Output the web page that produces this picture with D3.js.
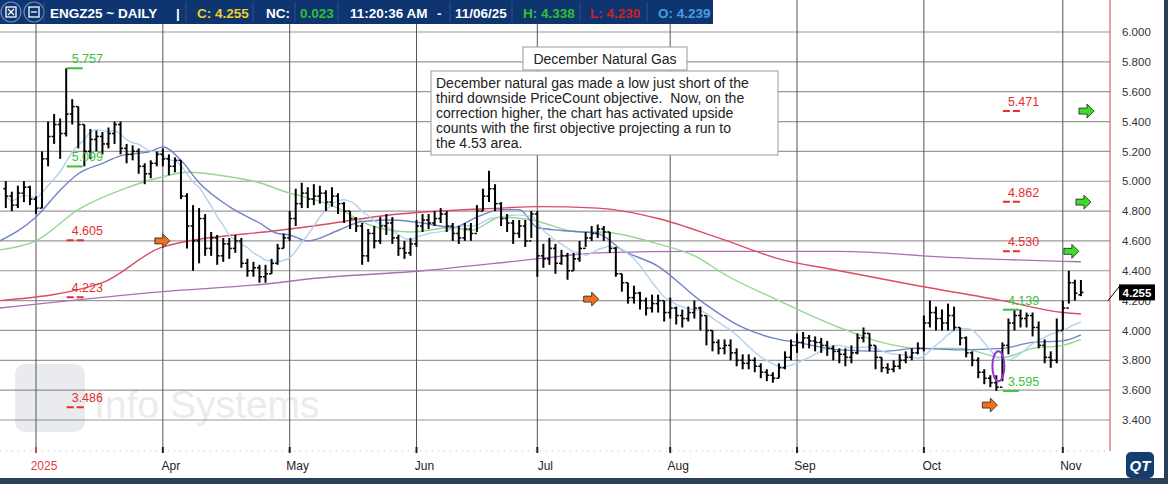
<!DOCTYPE html>
<html>
<head>
<meta charset="utf-8">
<script src="https://cdn.jsdelivr.net/npm/d3@7"></script>
<style>
  body { margin: 0; background: #fff; }
  svg { display: block; font-family: "Liberation Sans", Arial, sans-serif; }
</style>
</head>
<body>
<svg id="chart" width="1168" height="484"></svg>
<script>
// daily bars, index 0 = Feb 24
const closes = [4.90,4.84,4.92,4.96,4.88,4.82,5.15,5.30,5.38,5.32,5.45,5.50,5.38,5.20,5.28,5.30,5.25,5.32,5.38,5.22,
5.18,5.20,5.10,5.05,5.12,5.18,5.15,5.10,5.14,4.90,4.70,4.60,4.75,4.55,4.62,4.50,4.58,4.55,4.60,4.45,
4.40,4.42,4.36,4.38,4.45,4.55,4.62,4.75,4.85,4.92,4.88,4.90,4.92,4.86,4.90,4.85,4.80,4.75,4.70,4.50,
4.65,4.60,4.70,4.72,4.62,4.55,4.52,4.58,4.70,4.74,4.72,4.75,4.78,4.70,4.65,4.62,4.68,4.65,4.80,4.90,
4.95,4.85,4.75,4.72,4.65,4.70,4.60,4.78,4.50,4.48,4.55,4.45,4.50,4.40,4.48,4.55,4.62,4.65,4.68,4.66,
4.55,4.38,4.32,4.22,4.25,4.20,4.15,4.18,4.20,4.12,4.15,4.10,4.08,4.12,4.15,4.10,4.00,3.92,3.88,3.90,
3.85,3.80,3.78,3.80,3.76,3.72,3.70,3.68,3.75,3.82,3.90,3.92,3.95,3.93,3.92,3.90,3.88,3.86,3.84,3.82,
3.85,3.95,3.98,3.90,3.82,3.75,3.74,3.76,3.80,3.82,3.85,3.88,4.05,4.12,4.08,4.05,4.10,4.02,3.95,3.85,
3.80,3.72,3.68,3.65,3.62,3.90,4.05,4.10,4.08,4.10,4.02,3.90,3.82,3.80,4.00,4.15,4.32,4.25,4.255];
const highs = [5.00,4.93,4.97,5.00,4.97,4.90,5.20,5.40,5.45,5.42,5.757,5.55,5.50,5.38,5.35,5.34,5.33,5.36,5.40,5.40,
5.25,5.24,5.22,5.12,5.14,5.20,5.22,5.18,5.16,5.14,4.92,4.84,4.82,4.78,4.66,4.64,4.62,4.62,4.64,4.62,
4.48,4.46,4.44,4.44,4.48,4.58,4.65,4.80,4.95,4.99,4.96,4.98,4.97,4.94,4.96,4.92,4.86,4.80,4.76,4.72,
4.68,4.70,4.76,4.78,4.76,4.64,4.60,4.62,4.74,4.78,4.78,4.80,4.82,4.80,4.72,4.70,4.72,4.72,4.84,4.95,
5.07,4.98,4.86,4.78,4.74,4.74,4.74,4.80,4.80,4.58,4.62,4.58,4.54,4.52,4.52,4.60,4.66,4.70,4.71,4.70,
4.66,4.56,4.38,4.32,4.30,4.26,4.22,4.24,4.24,4.20,4.22,4.16,4.14,4.16,4.20,4.16,4.10,4.00,3.94,3.94,
3.94,3.88,3.84,3.84,3.82,3.78,3.74,3.72,3.78,3.86,3.94,3.98,3.99,3.97,3.96,3.95,3.93,3.90,3.88,3.88,
3.90,3.98,4.02,3.98,3.90,3.82,3.78,3.80,3.84,3.86,3.88,3.92,4.10,4.20,4.16,4.14,4.18,4.16,4.02,3.96,
3.86,3.82,3.74,3.70,3.70,3.92,4.08,4.14,4.14,4.12,4.12,4.06,3.94,3.86,4.08,4.20,4.40,4.34,4.338];
const lows = [4.82,4.80,4.82,4.86,4.84,4.78,4.82,5.10,5.25,5.15,5.30,5.38,5.22,5.10,5.15,5.20,5.18,5.22,5.25,5.18,
5.12,5.14,5.05,4.98,5.02,5.10,5.10,5.04,5.06,4.88,4.55,4.40,4.45,4.50,4.50,4.44,4.46,4.48,4.52,4.42,
4.36,4.36,4.32,4.32,4.38,4.44,4.55,4.60,4.70,4.82,4.82,4.84,4.85,4.80,4.83,4.78,4.72,4.68,4.66,4.44,
4.46,4.55,4.58,4.64,4.58,4.50,4.48,4.50,4.56,4.66,4.68,4.70,4.72,4.66,4.60,4.58,4.60,4.60,4.66,4.80,
4.86,4.80,4.70,4.66,4.58,4.62,4.56,4.62,4.36,4.42,4.44,4.38,4.44,4.34,4.40,4.46,4.56,4.60,4.62,4.60,
4.52,4.36,4.26,4.18,4.18,4.14,4.10,4.12,4.12,4.06,4.08,4.04,4.02,4.06,4.08,4.00,3.90,3.86,3.84,3.84,
3.80,3.76,3.74,3.74,3.72,3.68,3.66,3.65,3.68,3.74,3.80,3.85,3.88,3.88,3.86,3.85,3.83,3.80,3.78,3.76,
3.78,3.84,3.92,3.86,3.74,3.72,3.71,3.72,3.74,3.78,3.80,3.84,3.86,4.02,4.00,4.00,4.00,4.00,3.90,3.82,
3.76,3.68,3.64,3.62,3.595,3.66,3.84,4.00,4.02,4.02,3.96,3.88,3.78,3.75,3.78,4.00,4.18,4.20,4.23];
const firstOpen = 4.95, lastOpen = 4.239;

// moving averages: [bar index, value]
const maBlue = [[-1,4.6],[5,4.76],[9,4.94],[12,5.05],[16,5.12],[19,5.17],[24,5.2],[26,5.23],[29,5.14],[32,4.99],[37,4.83],[42,4.72],[45,4.65],[47,4.64],[50,4.6],[55,4.67],[59,4.73],[64,4.74],[69,4.72],[74,4.69],[78,4.76],[82,4.81],[85,4.81],[88,4.69],[92,4.67],[98,4.65],[102,4.54],[108,4.43],[115,4.2],[122,4.02],[128,3.94],[131,3.92],[138,3.87],[145,3.86],[151,3.88],[158,3.87],[165,3.88],[170,3.92],[175,3.93],[178,3.97]];
const maGreen = [[-1,4.54],[5,4.6],[12,4.81],[19,4.94],[26,5.03],[30,5.06],[37,5.03],[42,4.99],[47,4.92],[49,4.9],[55,4.82],[60,4.71],[67,4.66],[74,4.69],[77,4.67],[82,4.76],[87,4.74],[95,4.66],[98,4.66],[108,4.58],[115,4.48],[118,4.4],[128,4.2],[138,4.02],[145,3.92],[151,3.88],[158,3.88],[165,3.82],[170,3.88],[175,3.9],[178,3.94]];
const maRed = [[-1,4.2],[16,4.32],[26,4.56],[45,4.67],[49,4.69],[65,4.78],[82,4.82],[88,4.83],[98,4.82],[108,4.75],[118,4.62],[128,4.48],[138,4.4],[151,4.3],[165,4.2],[175,4.12],[178,4.11]];
const maPurple = [[-1,4.15],[26,4.26],[45,4.32],[49,4.34],[69,4.4],[88,4.48],[98,4.52],[115,4.53],[138,4.53],[156,4.49],[178,4.46]];
const lightPeriod = 9;

const monthTicks = [5, 26, 47, 68, 88, 110, 131, 152, 175];
const monthLabels = ["2025", "Apr", "May", "Jun", "Jul", "Aug", "Sep", "Oct", "Nov"];
const yTicks = [3.4, 3.6, 3.8, 4.0, 4.2, 4.4, 4.6, 4.8, 5.0, 5.2, 5.4, 5.6, 5.8, 6.0];

// PriceCount objectives: [value, bar index, colour]
const objectives = [[5.757, 10, "#3cc13c"], [5.099, 10, "#3cc13c"], [4.605, 10, "#e03030"], [4.223, 10, "#e03030"], [3.486, 10, "#e03030"],
  [5.471, 165, "#e03030"], [4.862, 165, "#e03030"], [4.530, 165, "#e03030"], [4.139, 165, "#3cc13c"], [3.595, 165, "#3cc13c"]];
const orangeArrows = [[26, 4.6], [97, 4.21], [163, 3.5]];
const greenArrows = [[179, 5.47], [178.5, 4.86], [176.5, 4.53]];

const W = 1168, H = 484;
const svg = d3.select("#chart");
const x = d3.scaleLinear().domain([0, 170]).range([5.8, 5.8 + 6.04 * 170]);
const y = d3.scaleLinear().domain([3.4, 6.0]).range([420, 32]);
const plotR = 1110, gridBottom = 451;

// grid
svg.append("g").selectAll("line").data(yTicks).join("line")
  .attr("x1", 0).attr("x2", plotR).attr("y1", d => y(d)).attr("y2", d => y(d))
  .attr("stroke", "#9a9a9a").attr("stroke-width", 1.2);
svg.append("g").selectAll("line").data(monthTicks).join("line")
  .attr("x1", d => x(d)).attr("x2", d => x(d)).attr("y1", 0).attr("y2", gridBottom)
  .attr("stroke", "#555").attr("stroke-width", 1);
svg.append("line").attr("x1", plotR).attr("x2", plotR).attr("y1", 0).attr("y2", gridBottom)
  .attr("stroke", "#e04040").attr("stroke-width", 1);
svg.append("line").attr("x1", 0).attr("x2", plotR).attr("y1", gridBottom).attr("y2", gridBottom)
  .attr("stroke", "#bbb").attr("stroke-dasharray", "1,5");
svg.append("g").selectAll("line").data(monthTicks).join("line")
  .attr("x1", d => x(d)).attr("x2", d => x(d)).attr("y1", gridBottom - 4).attr("y2", gridBottom + 2)
  .attr("stroke", (d, i) => i === 0 ? "#e04040" : "#222").attr("stroke-width", 2);

// watermark
const wm = svg.append("g").attr("opacity", 0.13);
wm.append("rect").attr("x", 15).attr("y", 364).attr("width", 70).attr("height", 68).attr("rx", 10).attr("fill", "#5a6f8a");
wm.append("text").attr("x", 94).attr("y", 418).attr("font-size", 39).attr("fill", "#5a6f8a").text("Info Systems");

// y axis
const yAxis = d3.axisRight(y).tickValues(yTicks).tickFormat(d3.format(".3f")).tickSize(0).tickPadding(12);
svg.append("g").attr("transform", `translate(${plotR},0)`).call(yAxis)
  .call(g => g.select(".domain").remove())
  .call(g => g.selectAll("text").attr("font-size", 11.5).attr("fill", "#333").attr("font-family", "Liberation Sans, Arial"));

// x axis labels
svg.append("g").selectAll("text").data(monthTicks).join("text")
  .attr("x", d => x(d) + 8).attr("y", 470).attr("text-anchor", "middle").attr("font-size", 12)
  .attr("fill", (d, i) => i === 0 ? "#e04040" : "#222").text((d, i) => monthLabels[i]);

// moving averages
const line = d3.line().x(d => x(d[0])).y(d => y(d[1])).curve(d3.curveMonotoneX);
const lightMA = closes.map((c, i) => {
  const w = closes.slice(Math.max(0, i - lightPeriod + 1), i + 1);
  return [i, d3.mean(w)];
});
[[maPurple, "#a970b5"], [maRed, "#dd4a63"], [maGreen, "#92d892"], [maBlue, "#7282c8"], [lightMA, "#b3d2ec"]]
  .forEach(([data, col]) => {
    svg.append("path").datum(data).attr("d", line).attr("fill", "none")
      .attr("stroke", col).attr("stroke-width", 1.4);
  });

// OHLC bars
const bars = svg.append("g").attr("stroke", "#000").attr("stroke-width", 2);
closes.forEach((c, i) => {
  const o = i === 0 ? firstOpen : (i === closes.length - 1 ? lastOpen : closes[i - 1]);
  const cx = x(i);
  bars.append("line").attr("x1", cx).attr("x2", cx).attr("y1", y(highs[i])).attr("y2", y(lows[i]));
  bars.append("line").attr("x1", cx - 2.5).attr("x2", cx).attr("y1", y(o)).attr("y2", y(o)).attr("stroke-width", 1.5);
  bars.append("line").attr("x1", cx).attr("x2", cx + 2.5).attr("y1", y(c)).attr("y2", y(c)).attr("stroke-width", 1.5);
});

// objectives
objectives.forEach(([v, i, col]) => {
  const gx = x(i) + 0.5;
  if (col === "#e03030") {
    svg.append("line").attr("x1", gx).attr("x2", gx + 19).attr("y1", y(v)).attr("y2", y(v))
      .attr("stroke", col).attr("stroke-width", 2).attr("stroke-dasharray", "7,3");
  } else {
    svg.append("line").attr("x1", gx).attr("x2", gx + 16).attr("y1", y(v)).attr("y2", y(v))
      .attr("stroke", col).attr("stroke-width", 2);
  }
  svg.append("text").attr("x", gx + 5).attr("y", y(v) - 5).attr("font-size", 12.5)
    .attr("fill", col).text(d3.format(".3f")(v));
});

// arrows
const arrowPath = "M0,-3 L8,-3 L8,-7 L15,0 L8,7 L8,3 L0,3 Z";
orangeArrows.forEach(([i, v]) => svg.append("path").attr("d", arrowPath)
  .attr("transform", `translate(${x(i) - 8},${y(v)})`).attr("fill", "#f07020").attr("stroke", "#222").attr("stroke-width", 0.8));
greenArrows.forEach(([i, v]) => svg.append("path").attr("d", arrowPath)
  .attr("transform", `translate(${x(i) - 8},${y(v)})`).attr("fill", "#3ddc2a").attr("stroke", "#222").attr("stroke-width", 0.8));

// purple ellipse around reversal
svg.append("ellipse").attr("cx", x(165) - 4).attr("cy", y(3.76)).attr("rx", 6).attr("ry", 15)
  .attr("fill", "none").attr("stroke", "#9b30d0").attr("stroke-width", 2);

// last price tag
svg.append("line").attr("x1", 1108).attr("x2", 1120).attr("y1", y(4.2)).attr("y2", y(4.30)).attr("stroke", "#000");
svg.append("rect").attr("x", 1119).attr("y", y(4.255) - 8).attr("width", 36).attr("height", 16).attr("fill", "#000");
svg.append("text").attr("x", 1137).attr("y", y(4.255) + 4.5).attr("text-anchor", "middle")
  .attr("font-size", 11.5).attr("font-weight", "bold").attr("fill", "#fff").text("4.255");

// comment boxes
svg.append("rect").attr("x", 523).attr("y", 47).attr("width", 164).attr("height", 23)
  .attr("fill", "#fff").attr("stroke", "#999");
svg.append("text").attr("x", 605).attr("y", 64).attr("text-anchor", "middle").attr("font-size", 14).attr("fill", "#222")
  .text("December Natural Gas");
svg.append("rect").attr("x", 431).attr("y", 71).attr("width", 347).attr("height", 84)
  .attr("fill", "#fff").attr("stroke", "#999");
const note = ["December natural gas made a low just short of the",
  "third downside PriceCount objective.  Now, on the",
  "correction higher, the chart has activated upside",
  "counts with the first objective projecting a run to",
  "the 4.53 area."];
svg.append("text").attr("font-size", 14).attr("fill", "#222").selectAll("tspan").data(note).join("tspan")
  .attr("x", 436).attr("y", (d, i) => 88 + i * 15).style("white-space", "pre").text(d => d);

// header bar
const hdr = svg.append("g");
hdr.append("rect").attr("x", 0).attr("y", 0).attr("width", 713).attr("height", 24).attr("fill", "#0e3570");
[11, 34].forEach((cx, k) => {
  hdr.append("circle").attr("cx", cx).attr("cy", 12).attr("r", 10).attr("fill", "#0e3570").attr("stroke", "#6f8fc0").attr("stroke-width", 1.2);
  hdr.append("rect").attr("x", cx - 5).attr("y", 7).attr("width", 10).attr("height", 10).attr("fill", "none").attr("stroke", "#fff").attr("stroke-width", 1.3);
  if (k === 0) hdr.append("path").attr("d", `M${cx - 3},9 L${cx + 3},15 M${cx + 3},9 L${cx - 3},15`).attr("stroke", "#fff").attr("stroke-width", 1.3);
  else hdr.append("path").attr("d", `M${cx - 3},12 L${cx + 3},12`).attr("stroke", "#fff").attr("stroke-width", 1.3);
});
const hdrItems = [[50, "ENGZ25 ~ DAILY", "#fff"], [176, "|", "#fff"], [197, "C: 4.255", "#f0d020"], [266, "NC:", "#fff"],
  [300, "0.023", "#30c030"], [350, "11:20:36 AM", "#fff"], [437, "-", "#fff"], [455, "11/06/25", "#fff"],
  [523, "H: 4.338", "#30c030"], [590, "L: 4.230", "#d02020"], [658, "O: 4.239", "#40a0e0"]];
[44, 186, 253, 295, 338, 450, 512, 580, 647].forEach(sx => hdr.append("line").attr("x1", sx).attr("x2", sx)
  .attr("y1", 2).attr("y2", 22).attr("stroke", "#2a5290"));
hdrItems.forEach(([hx, t, col]) => hdr.append("text").attr("x", hx).attr("y", 17.5).attr("font-size", 13.5)
  .attr("font-weight", "bold").attr("fill", col).text(t));

// QT logo & bottom border
svg.append("rect").attr("x", 1126).attr("y", 452).attr("width", 28).attr("height", 26).attr("rx", 5).attr("fill", "#143e6e");
svg.append("text").attr("x", 1140).attr("y", 471).attr("text-anchor", "middle").attr("font-size", 15)
  .attr("font-weight", "bold").attr("font-style", "italic").attr("fill", "#fff").text("QT");
svg.append("rect").attr("x", 0).attr("y", 478).attr("width", W).attr("height", 6).attr("fill", "#2b3f5c");
svg.append("rect").attr("x", 1164).attr("y", 0).attr("width", 4).attr("height", H).attr("fill", "#2b3f5c");
</script>
</body>
</html>
